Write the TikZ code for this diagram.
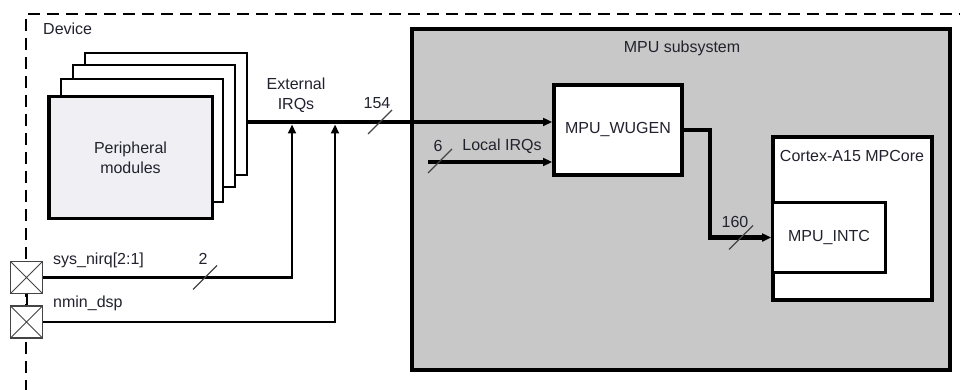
\documentclass[tikz,border=0pt]{standalone}
\usepackage{fontspec}
\setmainfont{Liberation Sans}
\usetikzlibrary{arrows.meta,calc}
\definecolor{txt}{HTML}{22222E}
\definecolor{mpufill}{HTML}{C8C8C8}
\definecolor{perfill}{HTML}{F0F0F4}
\definecolor{padline}{HTML}{444444}
\begin{document}
\begin{tikzpicture}[x=1pt,y=-1pt,
  every node/.style={font=\fontsize{16}{20}\selectfont, text=txt},
  blk/.style={draw=black, fill=white, line width=4pt, inner sep=0pt},
  backbox/.style={draw=black, fill=white, line width=2pt, inner sep=0pt, minimum width=162pt, minimum height=122pt},
  padbox/.style={draw=padline, fill=white, line width=1.5pt, minimum width=32pt, minimum height=32pt, inner sep=0pt,
     path picture={\draw[padline, line width=1pt] (path picture bounding box.north west) -- (path picture bounding box.south east)
                   (path picture bounding box.north east) -- (path picture bounding box.south west);}},
  tip/.style={-{Triangle[length=9pt,width=8pt]}},
  bus/.style={draw=black, line width=3.2pt, tip},
  fatbus/.style={draw=black, line width=4.5pt, tip},
  sig/.style={draw=black, line width=2.2pt, tip},
  slash/.style={draw=padline, line width=1.3pt},
  lbl/.style={inner sep=0pt}]
\useasboundingbox (0,0) rectangle (960,390);

% device boundary
\draw[line width=2pt, dash pattern=on 12pt off 7pt] (26,392) -- (26,14) -- (962,14);
\node[lbl, anchor=west] (device) at (43,29) {Device};

% peripheral modules stack
\node[backbox] (p4) at (166,114) {};
\node[backbox] (p3) at (154,126) {};
\node[backbox] (p2) at (142,140.5) {};
\node[draw=black, fill=perfill, line width=3.5pt, inner sep=0pt, minimum width=163.5pt, minimum height=121.5pt, align=center]
  (periph) at (130.5,157.5) {Peripheral\\modules};

% pads
\node[padbox] (pad1) at (26.5,277.5) {};
\node[padbox] (pad2) at (26.5,322) {};
\draw[line width=2pt] (pad1.south) -- (pad2.north);
\node[lbl, anchor=west] (sysl) at (53,260) {sys\_nirq[2:1]};
\node[lbl, anchor=west] (nmil) at (53,303) {nmin\_dsp};

% MPU subsystem
\node[blk, fill=mpufill, minimum width=538pt, minimum height=341pt] (mpu) at (681,199.5) {};
\node[lbl] (mpul) at (682,48) {MPU subsystem};
\node[blk, minimum width=128pt, minimum height=90pt] (wugen) at (618,130) {MPU\_WUGEN};
\node[blk, minimum width=159pt, minimum height=163pt] (cortex) at (852.5,218.5) {};
\node[lbl] (cortexl) at (852,156) {Cortex-A15 MPCore};
\node[draw=black, fill=white, line width=3pt, inner sep=0pt, minimum width=113pt, minimum height=70pt] (intc) at (829,237.5) {MPU\_INTC};

% external IRQ bus
\coordinate (ext) at (248,122);
\draw[bus] (p4.east |- ext) -- (wugen.west |- ext);
\node[lbl, align=center] (extl) at (296,95) {External\\IRQs};
\coordinate (s154) at (380,122);
\draw[slash] ($(s154)+(-12,12)$) -- ($(s154)+(12,-12)$);
\node[lbl] (n154) at (377,103) {154};

% sys_nirq and nmin_dsp
\coordinate (j1) at (292,124.5);
\coordinate (j2) at (335,124.5);
\draw[sig] (pad1.east) -| (j1);
\draw[sig] (pad2.east) -| (j2);
\coordinate (s2) at (205,277.5);
\draw[slash] ($(s2)+(-12,12)$) -- ($(s2)+(12,-12)$);
\node[lbl] (n2) at (203,259) {2};

% local IRQs
\coordinate (lirq) at (428,162);
\draw[fatbus] (lirq) -- (wugen.west |- lirq);
\coordinate (s6) at (440,161);
\draw[slash] ($(s6)+(-12,12)$) -- ($(s6)+(12,-12)$);
\node[lbl] (n6) at (438,146) {6};
\node[lbl] (locl) at (502,146) {Local IRQs};

% WUGEN -> INTC
\coordinate (bend) at (710,130);
\draw[fatbus] (wugen.east) -- (bend) |- (intc.west);
\coordinate (s160) at (741,237.5);
\draw[slash] ($(s160)+(-12,12)$) -- ($(s160)+(12,-12)$);
\node[lbl] (n160) at (735,222) {160};
\end{tikzpicture}
\end{document}
